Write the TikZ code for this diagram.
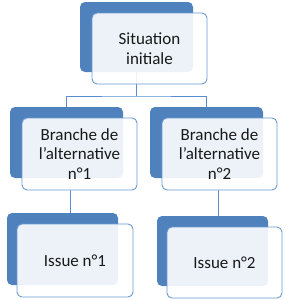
\documentclass[tikz,border=0pt]{standalone}
\usepackage{fontspec}
\setmainfont{Carlito}
\definecolor{darkbl}{HTML}{4F81BD}
\definecolor{edgebl}{HTML}{6A98D2}
\definecolor{linebl}{HTML}{5B8CCF}
\begin{document}
\begin{tikzpicture}[x=1pt,y=-1pt,
  backbox/.style={rectangle, rounded corners=5pt, fill=darkbl, draw=none, inner sep=0pt},
  frontbox/.style={rectangle, rounded corners=5pt, fill=white, fill opacity=0.9, text opacity=1, draw=edgebl, line width=0.9pt, inner sep=0pt, align=center, font=\fontsize{17}{19.5}\selectfont, text=black!90},
  conn/.style={draw=linebl, line width=0.9pt}]
\useasboundingbox (0,0) rectangle (286,300);
% back boxes
\node[backbox, minimum width=113pt, minimum height=70pt] (topback) at (136.5,37) {};
\node[backbox, minimum width=113pt, minimum height=71pt] (b1back) at (66.5,142.5) {};
\node[backbox, minimum width=113pt, minimum height=71pt] (b2back) at (206.5,142.5) {};
\node[backbox, minimum width=111pt, minimum height=72pt] (i1back) at (62.5,249) {};
\node[backbox, minimum width=111pt, minimum height=70pt] (i2back) at (212.5,251) {};
% connectors
\coordinate (junc) at (136.5,96);
\coordinate (c1) at (70,190);
\coordinate (c2) at (218,190);
\draw[conn] (topback.south) -- (junc);
\draw[conn] (b1back.north) |- (junc) -| (b2back.north);
\draw[conn] (c1) -- (c1 |- i1back.north);
\draw[conn] (c2) -- (c2 |- i2back.north);
% front boxes
\node[frontbox, minimum width=115pt, minimum height=71pt] (top) at (149.5,48.5) {Situation\\initiale};
\node[frontbox, minimum width=115pt, minimum height=72pt] (b1) at (79.5,154) {Branche de\\l’alternative\\n°1};
\node[frontbox, minimum width=115pt, minimum height=72pt] (b2) at (219.5,154) {Branche de\\l’alternative\\n°2};
\node[frontbox, minimum width=116pt, minimum height=73pt] (i1) at (75,260.5) {Issue n°1};
\node[frontbox, minimum width=115pt, minimum height=71pt] (i2) at (224.5,262.5) {Issue n°2};
\end{tikzpicture}
\end{document}
